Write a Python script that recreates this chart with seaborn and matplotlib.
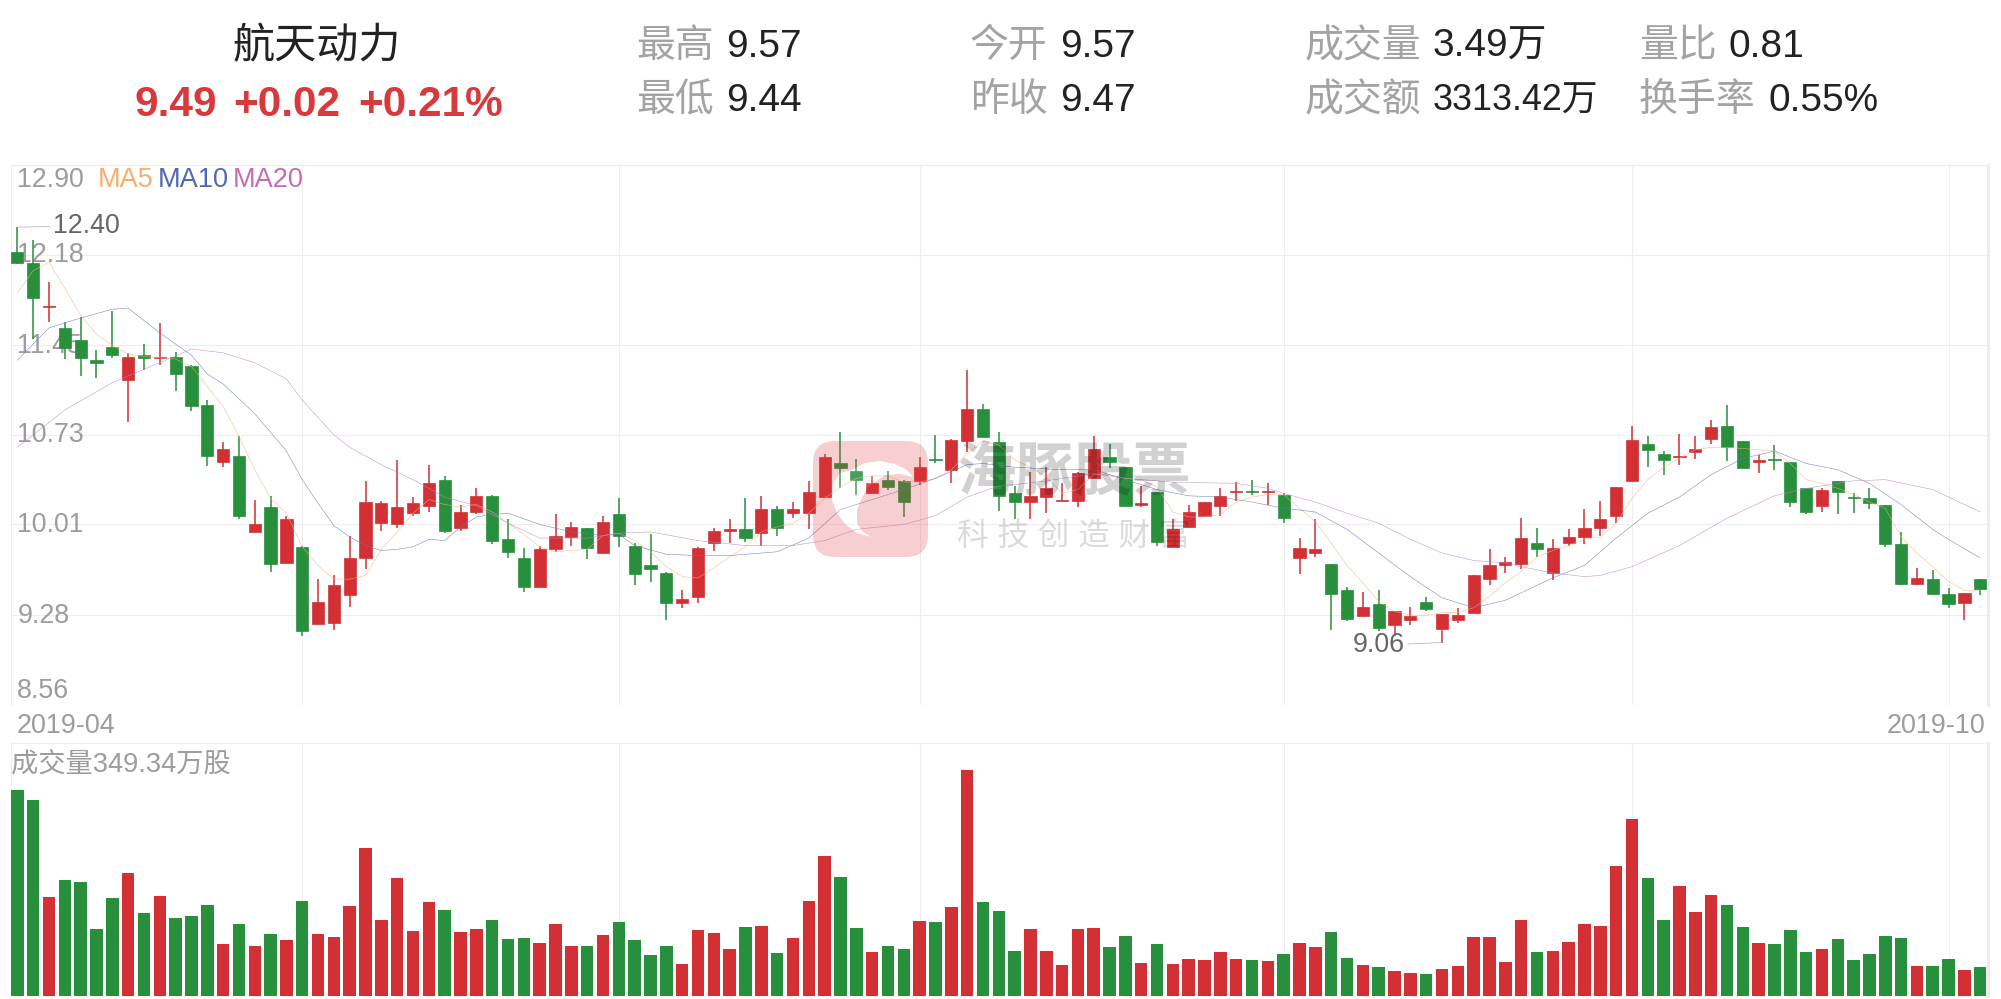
import matplotlib
matplotlib.use("Agg")
import matplotlib.pyplot as plt
import numpy as np
import pandas as pd
import seaborn as sns
from matplotlib.patches import FancyBboxPatch, PathPatch, Polygon
from matplotlib.path import Path

# Daily prices
opens = [
    12.20, 12.11, 11.76, 11.59, 11.49, 11.33, 11.44, 11.17, 11.37, 11.35,
    11.36, 11.28, 10.97, 10.51, 10.56, 9.95, 10.15, 9.70, 9.83, 9.21,
    9.22, 9.44, 9.74, 10.02, 10.01, 10.10, 10.16, 10.37, 9.98, 10.11,
    10.24, 9.89, 9.74, 9.51, 9.81, 9.91, 9.98, 9.78, 10.09, 9.84,
    9.68, 9.62, 9.38, 9.43, 9.86, 9.96, 9.97, 9.94, 10.13, 10.10,
    10.10, 10.23, 10.50, 10.44, 10.26, 10.37, 10.36, 10.36, 10.54, 10.45,
    10.68, 10.94, 10.67, 10.26, 10.19, 10.23, 10.20, 10.20, 10.38, 10.55,
    10.47, 10.17, 10.27, 9.83, 9.99, 10.08, 10.16, 10.27, 10.28, 10.27,
    10.25, 9.74, 9.78, 9.69, 9.48, 9.27, 9.37, 9.20, 9.24, 9.39,
    9.17, 9.24, 9.30, 9.57, 9.68, 9.69, 9.86, 9.62, 9.86, 9.91,
    9.98, 10.08, 10.36, 10.66, 10.58, 10.55, 10.59, 10.70, 10.80, 10.68,
    10.51, 10.54, 10.51, 10.30, 10.16, 10.36, 10.23, 10.22, 10.17, 9.85,
    9.53, 9.57, 9.45, 9.38, 9.57,
]
closes = [
    12.11, 11.83, 11.77, 11.43, 11.35, 11.31, 11.37, 11.36, 11.35, 11.36,
    11.22, 10.96, 10.56, 10.62, 10.08, 10.01, 9.69, 10.05, 9.15, 9.39,
    9.52, 9.74, 10.19, 10.18, 10.15, 10.18, 10.34, 9.96, 10.11, 10.24,
    9.88, 9.79, 9.51, 9.81, 9.92, 9.99, 9.82, 10.03, 9.92, 9.61,
    9.65, 9.38, 9.41, 9.82, 9.96, 9.97, 9.90, 10.13, 9.98, 10.13,
    10.27, 10.55, 10.46, 10.37, 10.34, 10.31, 10.19, 10.47, 10.53, 10.69,
    10.94, 10.71, 10.24, 10.19, 10.24, 10.30, 10.21, 10.42, 10.62, 10.51,
    10.16, 10.18, 9.87, 9.97, 10.11, 10.19, 10.24, 10.28, 10.27, 10.28,
    10.06, 9.82, 9.81, 9.45, 9.25, 9.35, 9.18, 9.31, 9.27, 9.33,
    9.29, 9.28, 9.60, 9.68, 9.71, 9.90, 9.81, 9.82, 9.91, 9.98,
    10.05, 10.31, 10.69, 10.61, 10.53, 10.56, 10.62, 10.79, 10.63, 10.46,
    10.53, 10.53, 10.19, 10.11, 10.29, 10.27, 10.22, 10.18, 9.85, 9.53,
    9.58, 9.45, 9.37, 9.46, 9.49,
]
highs = [
    12.40, 12.30, 11.96, 11.64, 11.68, 11.41, 11.73, 11.39, 11.46, 11.63,
    11.40, 11.29, 11.01, 10.67, 10.72, 10.21, 10.24, 10.08, 9.84, 9.57,
    9.60, 9.92, 10.36, 10.20, 10.53, 10.23, 10.49, 10.40, 10.17, 10.30,
    10.25, 10.05, 9.82, 9.84, 10.09, 10.03, 9.98, 10.08, 10.22, 9.86,
    9.93, 9.63, 9.48, 9.83, 9.98, 10.05, 10.22, 10.24, 10.16, 10.19,
    10.36, 10.58, 10.75, 10.54, 10.40, 10.44, 10.37, 10.55, 10.73, 10.70,
    11.25, 10.98, 10.75, 10.32, 10.43, 10.47, 10.34, 10.43, 10.72, 10.66,
    10.47, 10.32, 10.27, 10.05, 10.17, 10.19, 10.30, 10.35, 10.37, 10.34,
    10.26, 9.90, 10.05, 9.69, 9.51, 9.47, 9.48, 9.31, 9.35, 9.43,
    9.29, 9.34, 9.60, 9.81, 9.75, 10.06, 9.98, 9.89, 9.97, 10.13,
    10.20, 10.31, 10.80, 10.72, 10.60, 10.74, 10.72, 10.85, 10.97, 10.68,
    10.57, 10.65, 10.51, 10.30, 10.30, 10.36, 10.26, 10.30, 10.17, 9.95,
    9.66, 9.64, 9.50, 9.46, 9.57,
]
lows = [
    12.10, 11.50, 11.64, 11.34, 11.20, 11.19, 11.35, 10.83, 11.25, 11.29,
    11.08, 10.92, 10.48, 10.47, 10.05, 9.95, 9.63, 9.70, 9.11, 9.21,
    9.16, 9.35, 9.65, 9.96, 9.98, 10.08, 10.11, 9.94, 9.96, 10.09,
    9.85, 9.74, 9.47, 9.51, 9.79, 9.84, 9.73, 9.78, 9.83, 9.52,
    9.55, 9.24, 9.34, 9.38, 9.80, 9.86, 9.87, 9.84, 9.92, 10.06,
    9.97, 10.23, 10.30, 10.25, 10.26, 10.29, 10.07, 10.33, 10.50, 10.34,
    10.59, 10.71, 10.12, 10.05, 10.05, 10.10, 10.20, 10.15, 10.38, 10.46,
    10.16, 10.15, 9.84, 9.83, 9.99, 10.08, 10.08, 10.20, 10.25, 10.17,
    10.02, 9.61, 9.75, 9.16, 9.23, 9.27, 9.15, 9.11, 9.20, 9.31,
    9.06, 9.22, 9.30, 9.52, 9.62, 9.65, 9.75, 9.56, 9.84, 9.85,
    9.92, 10.02, 10.36, 10.47, 10.41, 10.49, 10.54, 10.66, 10.52, 10.46,
    10.42, 10.45, 10.15, 10.09, 10.11, 10.09, 10.10, 10.13, 9.83, 9.52,
    9.52, 9.45, 9.34, 9.24, 9.44,
]

# Volume in 10k shares
volumes = [
    2505, 2383, 1202, 1409, 1384, 812, 1190, 1494, 1007, 1214,
    946, 970, 1104, 629, 873, 605, 751, 678, 1153, 751,
    715, 1092, 1799, 922, 1433, 788, 1141, 1043, 775, 812,
    922, 690, 702, 641, 873, 605, 605, 739, 897, 678,
    495, 605, 386, 800, 763, 568, 836, 849, 520, 702,
    1153, 1701, 1445, 824, 532, 605, 568, 909, 897, 1080,
    2749, 1141, 1031, 544, 812, 544, 374, 812, 824, 593,
    727, 398, 629, 386, 447, 434, 532, 447, 434, 422,
    508, 641, 593, 775, 459, 374, 349, 300, 276, 264,
    325, 361, 715, 715, 410, 922, 532, 544, 654, 873,
    849, 1579, 2152, 1433, 922, 1336, 1019, 1226, 1104, 836,
    641, 629, 800, 532, 568, 690, 434, 508, 727, 702,
    361, 361, 447, 313, 349.34,
]

ma5 = [
    11.87, 12.05, 12.12, 11.91, 11.69, 11.54, 11.45, 11.38, 11.36, 11.35,
    11.34, 11.28, 11.12, 10.96, 10.72, 10.45, 10.22, 10.10, 9.83, 9.68,
    9.57, 9.57, 9.60, 9.81, 9.95, 10.10, 10.21, 10.17, 10.15, 10.17,
    10.11, 10.02, 9.93, 9.83, 9.79, 9.80, 9.81, 9.92, 9.94, 9.88,
    9.79, 9.67, 9.59, 9.58, 9.66, 9.75, 9.83, 9.95, 9.99, 10.02,
    10.10, 10.22, 10.31, 10.38, 10.40, 10.40, 10.35, 10.35, 10.38, 10.45,
    10.58, 10.68, 10.65, 10.53, 10.47, 10.39, 10.26, 10.29, 10.41, 10.41,
    10.38, 10.37, 10.31, 10.11, 10.07, 10.07, 10.09, 10.19, 10.23, 10.25,
    10.25, 10.14, 10.03, 9.86, 9.68, 9.54, 9.39, 9.31, 9.28, 9.28,
    9.30, 9.30, 9.34, 9.43, 9.54, 9.63, 9.75, 9.80, 9.84, 9.89,
    9.91, 10.02, 10.22, 10.37, 10.47, 10.54, 10.61, 10.63, 10.63, 10.62,
    10.61, 10.60, 10.50, 10.37, 10.34, 10.30, 10.25, 10.19, 10.14, 9.91,
    9.78, 9.67, 9.55, 9.48, 9.48,
]
ma10_days = [
    0, 2, 4, 6, 7, 9, 11, 12, 13, 15, 17, 18, 19, 20, 21, 22, 23, 24, 25, 26,
    27, 28, 29, 30, 31, 33, 35, 37, 38, 39, 41, 43, 45, 47, 48, 50, 52, 54, 56, 58,
    60, 61, 63, 66, 68, 70, 72, 74, 76, 78, 80, 82, 84, 86, 88, 90, 92, 94, 95, 97,
    99, 101, 103, 105, 107, 109, 111, 113, 115, 117, 119, 121, 122, 124,
]
ma10 = [
    11.33, 11.59, 11.67, 11.74, 11.75, 11.55, 11.37, 11.22, 11.14, 10.90, 10.60, 10.37, 10.18, 10.00, 9.91, 9.84, 9.80, 9.81, 9.83, 9.89,
    9.88, 9.99, 10.07, 10.09, 10.10, 10.01, 9.95, 9.92, 9.93, 9.84, 9.77, 9.76, 9.76, 9.78, 9.79, 9.90, 10.13, 10.21, 10.29, 10.38,
    10.49, 10.50, 10.47, 10.45, 10.45, 10.37, 10.29, 10.24, 10.23, 10.19, 10.14, 10.11, 9.97, 9.78, 9.59, 9.42, 9.34, 9.40, 9.46, 9.58,
    9.68, 9.90, 10.10, 10.23, 10.41, 10.54, 10.60, 10.50, 10.45, 10.34, 10.17, 9.97, 9.89, 9.74,
]
ma20_days = [
    0, 3, 6, 9, 11, 13, 15, 17, 18, 20, 21, 23, 25, 27, 29, 31, 33, 36, 38, 40,
    43, 46, 49, 51, 53, 56, 58, 60, 62, 63, 65, 68, 70, 73, 77, 79, 80, 82, 84, 86,
    88, 90, 92, 94, 95, 97, 99, 100, 102, 105, 108, 111, 113, 116, 118, 121, 124,
]
ma20 = [
    10.63, 10.93, 11.15, 11.31, 11.42, 11.39, 11.31, 11.18, 11.01, 10.73, 10.63, 10.49, 10.37, 10.23, 10.16, 10.02, 9.90, 9.90, 9.94, 9.95,
    9.88, 9.84, 9.84, 9.88, 9.97, 10.01, 10.08, 10.23, 10.32, 10.33, 10.36, 10.42, 10.38, 10.35, 10.34, 10.30, 10.26, 10.19, 10.10, 10.02,
    9.89, 9.78, 9.72, 9.70, 9.67, 9.62, 9.59, 9.60, 9.67, 9.84, 10.06, 10.24, 10.30, 10.36, 10.37, 10.29, 10.11,
]

price_ticks = [8.56, 9.28, 10.01, 10.73, 11.45, 12.18, 12.90]
date_grid = [18, 38, 57, 80, 102, 122]

RED = "#d23034"
GREEN = "#288f3d"
GRID = "#eeeeee"
LABEL = "#9c9c9c"

sns.set_theme(style="white")
plt.rcParams["font.family"] = ["Liberation Sans", "Noto Sans CJK SC"]

df = pd.DataFrame({"day": np.arange(len(opens)), "open": opens, "close": closes,
                   "high": highs, "low": lows, "volume": volumes})
df["up"] = df["close"] >= df["open"]
df["color"] = np.where(df["up"], RED, GREEN)

W, H = 2001, 999
fig = plt.figure(figsize=(W / 100, H / 100), dpi=100, facecolor="white")
ax = fig.add_axes([11 / W, 1 - 705 / H, 1977 / W, 540 / H])
vol_ax = fig.add_axes([11 / W, 1 - 996 / H, 1977 / W, 253 / H])

# Candles
ax.vlines(df["day"], df["low"], df["high"], colors=df["color"], lw=1.1, zorder=3)
ax.bar(df["day"], (df["close"] - df["open"]).abs(), bottom=df[["open", "close"]].min(axis=1),
       width=0.77, color=df["color"], edgecolor=df["color"], linewidth=0.5, zorder=4)

# Moving averages
sns.lineplot(x=df["day"], y=ma5, color="#f5b27c", lw=0.4, alpha=0.85, estimator=None, ax=ax, zorder=5)
sns.lineplot(x=ma10_days, y=ma10, color="#6177b5", lw=0.4, alpha=0.85, estimator=None, ax=ax, zorder=5)
sns.lineplot(x=ma20_days, y=ma20, color="#c283c6", lw=0.4, alpha=0.85, estimator=None, ax=ax, zorder=5)

# Volume bars
sns.barplot(data=df, x="day", y="volume", hue="color", palette={RED: RED, GREEN: GREEN},
            native_scale=True, dodge=False, width=0.79, saturation=1, legend=False,
            linewidth=0, ax=vol_ax, zorder=3)

for a in (ax, vol_ax):
    a.set_xlim(-0.398, 124.49)
    a.set_xticks(date_grid)
    a.set_xlabel("")
    a.set_ylabel("")
    a.tick_params(length=0, labelbottom=False, labelleft=False)
    a.grid(True, axis="x", color=GRID, lw=0.8, zorder=0)
    a.set_axisbelow(True)
    for side, spine in a.spines.items():
        spine.set_color(GRID)
        spine.set_linewidth(0.8)
    a.spines["bottom"].set_visible(False)
    a.spines["right"].set_color("#ebebf2")
    a.spines["right"].set_linewidth(2.2)

ax.set_ylim(8.558, 12.90)
ax.set_yticks(price_ticks)
ax.grid(True, axis="y", color=GRID, lw=0.8, zorder=0)
vol_ax.set_ylim(0, 3075)
vol_ax.set_yticks([])

# Price labels sit under the candles
for value in price_ticks:
    va = "top" if value == 12.90 else "bottom" if value == 8.56 else "center"
    offset = {12.90: -0.015, 8.56: 0.01}.get(value, -0.005)
    ax.text(0, value + offset, f"{value:.2f}", fontsize=19.3, color=LABEL, ha="left", va=va, zorder=2)

# High and low callouts
ax.annotate("12.40", xy=(0, 12.40), xytext=(26, 1), textcoords="offset points", fontsize=19.3,
            color="#666666", va="center", ha="left", zorder=6,
            arrowprops=dict(arrowstyle="-", color="#aab0bb", lw=0.5, shrinkA=0, shrinkB=0))
ax.annotate("9.06", xy=(90, 9.06), xytext=(-27, -2), textcoords="offset points", fontsize=19.3,
            color="#666666", va="center", ha="right", zorder=6,
            arrowprops=dict(arrowstyle="-", color="#aab0bb", lw=0.5, shrinkA=0, shrinkB=0))

# Overlay in pixel units for header, legend and watermark
ov = fig.add_axes([0, 0, 1, 1], zorder=10)
ov.set_xlim(0, W)
ov.set_ylim(H, 0)
ov.axis("off")
ov.patch.set_alpha(0)

ov.text(317, 47, "航天动力", fontsize=30.3, color="#222222", ha="center", va="center")
for x, s in [(134, "9.49"), (233, "+0.02"), (358, "+0.21%")]:
    ov.text(x, 105, s, fontsize=30.5, fontweight="bold", color="#d8393c", ha="left", va="center")

header = [
    (636, 726, 47, "最高", "9.57", 28), (636, 726, 101, "最低", "9.44", 28),
    (970, 1060, 47, "今开", "9.57", 28), (970, 1060, 101, "昨收", "9.47", 28),
    (1305, 1433, 47, "成交量", "3.49万", 28), (1305, 1433, 101, "成交额", "3313.42万", 25.8),
    (1639, 1729, 47, "量比", "0.81", 28), (1639, 1768, 101, "换手率", "0.55%", 28),
]
for lx, vx, y, label, value, size in header:
    ov.text(lx, y, label, fontsize=28, color="#a3a3a3", ha="left", va="center")
    ov.text(vx, y, value, fontsize=size, color="#222222", ha="left", va="center")

for x, s, c in [(98, "MA5", "#f6ae6d"), (158, "MA10", "#4f69b3"), (233, "MA20", "#c46bb7")]:
    ov.text(x, 180, s, fontsize=19.5, color=c, ha="left", va="center")

ov.text(17, 726, "2019-04", fontsize=19.4, color=LABEL, ha="left", va="center")
ov.text(1985, 726, "2019-10", fontsize=19.4, color=LABEL, ha="right", va="center")
ov.text(11, 765, "成交量349.34万股", fontsize=19.6, color=LABEL, ha="left", va="center")

# Watermark logo
r = 22
box = FancyBboxPatch((813 + r, 441 + r), 115 - 2 * r, 116 - 2 * r,
                     boxstyle=f"round,pad={r},rounding_size={r}")
outer = box.get_path().to_polygons()[0]
dolphin = np.array([
    (833, 483), (840, 473), (852, 470), (865, 463), (880, 461), (895, 464), (907, 470),
    (913, 477), (900, 474), (885, 475), (875, 482), (867, 488), (862, 498), (857, 510),
    (857, 523), (863, 532), (871, 537), (857, 533), (845, 524), (837, 513), (832, 500),
    (833, 483),
], dtype=float)


def area(p):
    return 0.5 * np.sum(p[:-1, 0] * p[1:, 1] - p[1:, 0] * p[:-1, 1])


hole = dolphin if area(outer) * area(dolphin) < 0 else dolphin[::-1]
logo = Path.make_compound_path(Path(outer, closed=True), Path(hole, closed=True))
ov.add_patch(PathPatch(logo, facecolor="#e5393d", edgecolor="none", alpha=0.24))
ov.add_patch(Polygon(dolphin, closed=True, facecolor="white", edgecolor="none", alpha=0.15))
ov.text(1075, 475, "海豚股票", fontsize=42, fontweight="bold", color="black", alpha=0.18,
        ha="center", va="center")
ov.text(1074, 538, "科 技 创 造 财 富", fontsize=22.8, color="black", alpha=0.14,
        ha="center", va="center")

fig.savefig("out.png", dpi=100)
